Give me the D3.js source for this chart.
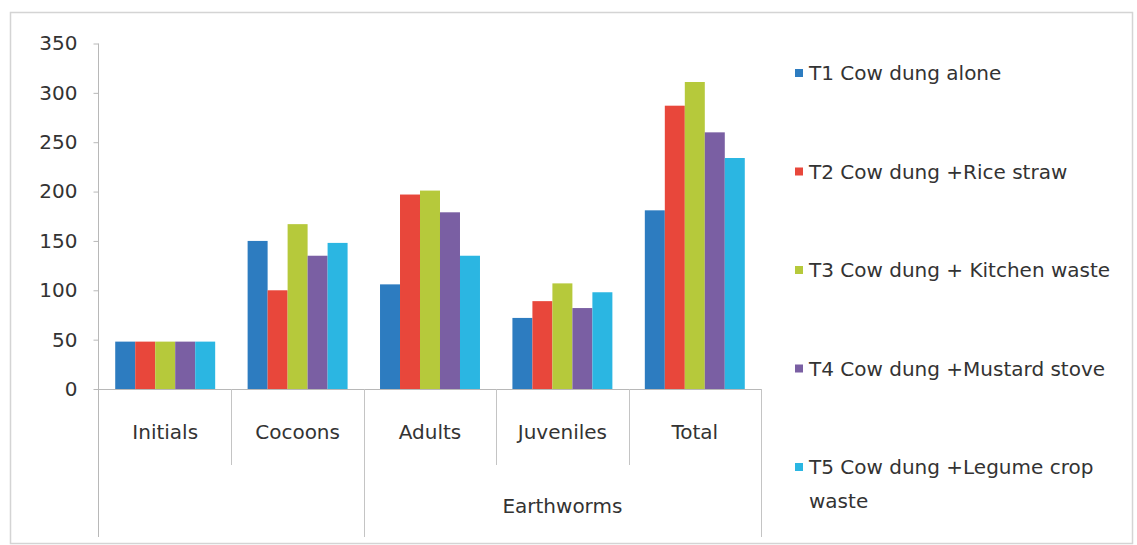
<!DOCTYPE html>
<html>
<head>
<meta charset="utf-8">
<script src="https://cdn.jsdelivr.net/npm/d3@7"></script>
<style>
  html, body { margin: 0; padding: 0; background: #fff; }
  svg text { font-family: "DejaVu Sans", sans-serif; fill: #333333; }
</style>
</head>
<body>
<svg id="chart" width="1137" height="545"></svg>
<script>
const categories = ["Initials", "Cocoons", "Adults", "Juveniles", "Total"];
const groupLabel = "Earthworms";
const groupedCategories = ["Adults", "Juveniles", "Total"];
const seriesNames = [
  "T1 Cow dung alone",
  "T2 Cow dung +Rice straw",
  "T3 Cow dung + Kitchen waste",
  "T4 Cow dung +Mustard stove",
  "T5 Cow dung +Legume crop waste"
];
const legendLines = [
  ["T1 Cow dung alone"],
  ["T2 Cow dung +Rice straw"],
  ["T3 Cow dung + Kitchen waste"],
  ["T4 Cow dung +Mustard stove"],
  ["T5 Cow dung +Legume crop", "waste"]
];
const T1 = [48, 150, 106, 72, 181];
const T2 = [48, 100, 197, 89, 287];
const T3 = [48, 167, 201, 107, 311];
const T4 = [48, 135, 179, 82, 260];
const T5 = [48, 148, 135, 98, 234];
const seriesValues = [T1, T2, T3, T4, T5];
const colors = ["#2d7cc0", "#e8473b", "#b6c93b", "#7a5fa3", "#2bb6e2"];
const yTicks = [0, 50, 100, 150, 200, 250, 300, 350];

const svg = d3.select("#chart");

// outer frame
svg.append("rect")
  .attr("x", 10.5).attr("y", 12.5).attr("width", 1122).attr("height", 531)
  .attr("fill", "none").attr("stroke", "#d4d4d4").attr("stroke-width", 1.5);

const y = d3.scaleLinear().domain([0, 350]).range([389, 43.5]);
const x0 = d3.scaleBand().domain(categories).range([99, 761])
  .paddingInner(0.245).paddingOuter(0.1225);
const x1 = d3.scaleBand().domain(seriesNames).range([0, x0.bandwidth()]);
const step = x0.step();

// y axis
const yAxis = d3.axisLeft(y).tickValues(yTicks).tickSize(5).tickPadding(16);
const gy = svg.append("g").attr("transform", "translate(98.5,0)").call(yAxis);
gy.select(".domain").remove();
gy.selectAll(".tick line").attr("stroke", "#b8b8b8");
gy.selectAll(".tick text").style("font-size", "20px").attr("fill", "#2e2e2e")
  .style("font-family", "'DejaVu Sans', sans-serif");

// vertical axis line
svg.append("line").attr("x1", 98.5).attr("x2", 98.5).attr("y1", y(350)).attr("y2", 537)
  .attr("stroke", "#b8b8b8");

// bars
const data = [];
categories.forEach((c, ci) => {
  seriesNames.forEach((s, si) => data.push({ c, s, si, v: seriesValues[si][ci] }));
});
svg.append("g").selectAll("rect").data(data).join("rect")
  .attr("x", d => x0(d.c) + x1(d.s))
  .attr("y", d => y(d.v))
  .attr("width", x1.bandwidth())
  .attr("height", d => y(0) - y(d.v))
  .attr("fill", d => colors[d.si]);

// x axis baseline
const right = x0.range()[1];
svg.append("line").attr("x1", 98.5).attr("x2", right).attr("y1", y(0) + 0.5).attr("y2", y(0) + 0.5)
  .attr("stroke", "#b8b8b8");

// category separators
const bounds = categories.map(c => x0(c) - step * x0.paddingInner() / 2).concat([right]);
bounds.forEach((b, i) => {
  if (i === 0) return;
  const cat = categories[i];
  const isGroupEdge = i === categories.length || cat === groupedCategories[0];
  svg.append("line")
    .attr("x1", Math.round(b) + 0.5).attr("x2", Math.round(b) + 0.5)
    .attr("y1", y(0)).attr("y2", isGroupEdge ? 537 : 465)
    .attr("stroke", "#c4c4c4");
});

// category labels
svg.append("g").selectAll("text").data(categories).join("text")
  .attr("x", d => x0(d) + x0.bandwidth() / 2)
  .attr("y", 439)
  .attr("text-anchor", "middle")
  .style("font-size", "20px")
  .text(d => d);

// group label
const gStart = x0(groupedCategories[0]) - step * x0.paddingInner() / 2;
svg.append("text")
  .attr("x", (gStart + right) / 2)
  .attr("y", 513)
  .attr("text-anchor", "middle")
  .style("font-size", "20px")
  .text(groupLabel);

// legend
const legend = svg.append("g").attr("transform", "translate(795,0)");
legendLines.forEach((lines, i) => {
  const cy = 73 + i * 98.5;
  legend.append("rect").attr("x", 0).attr("y", cy - 4).attr("width", 8).attr("height", 8)
    .attr("fill", colors[i]);
  lines.forEach((t, li) => {
    legend.append("text").attr("x", 14).attr("y", cy + 7 + li * 34)
      .style("font-size", "20px").attr("fill", "#444444").text(t);
  });
});
</script>
</body>
</html>
